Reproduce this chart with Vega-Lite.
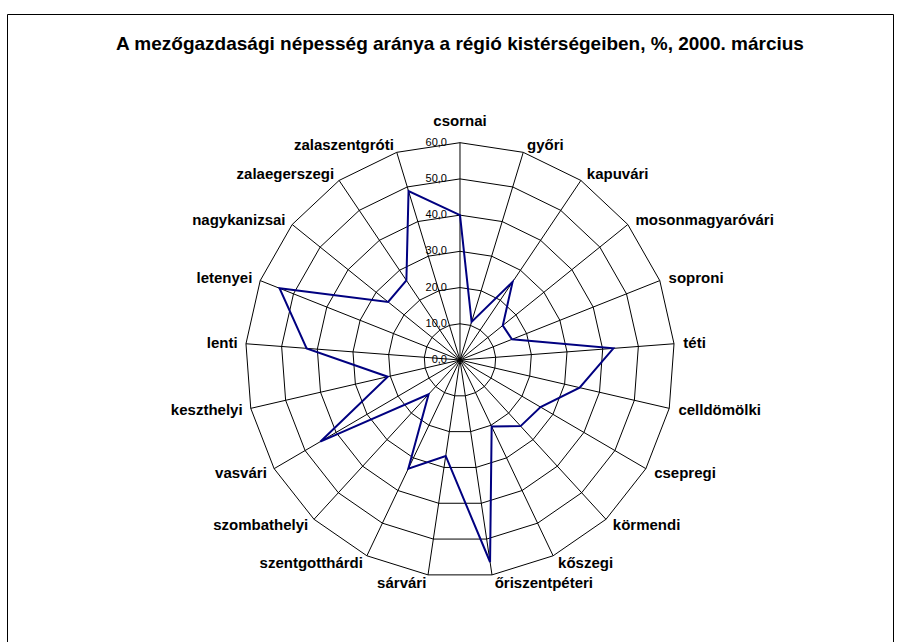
{
  "$schema": "https://vega.github.io/schema/vega-lite/v6.json",
  "width": 886,
  "height": 628,
  "autosize": {"type": "none"},
  "padding": {"left": 7, "top": 14, "right": 6, "bottom": 0},
  "background": "white",
  "config": {
    "view": {"stroke": "black", "strokeWidth": 1},
    "font": "Liberation Sans",
    "locale": {"number": {"decimal": ",", "thousands": " ", "grouping": [3], "currency": ["", " Ft"]}}
  },
  "title": {
    "text": "A mezőgazdasági népesség aránya a régió kistérségeiben, %, 2000. március",
    "anchor": "middle",
    "frame": "group",
    "fontSize": 19,
    "fontWeight": "bold",
    "font": "Liberation Sans",
    "color": "black",
    "dx": 10,
    "dy": 40,
    "offset": 0
  },
  "datasets": {
    "kisterseg": [
      {"sorszam": 0, "nev": "csornai", "ertek": 40.0},
      {"sorszam": 1, "nev": "győri", "ertek": 11.0},
      {"sorszam": 2, "nev": "kapuvári", "ertek": 26.1},
      {"sorszam": 3, "nev": "mosonmagyaróvári", "ertek": 15.3},
      {"sorszam": 4, "nev": "soproni", "ertek": 15.6},
      {"sorszam": 5, "nev": "téti", "ertek": 43.0},
      {"sorszam": 6, "nev": "celldömölki", "ertek": 34.3},
      {"sorszam": 7, "nev": "csepregi", "ertek": 26.0},
      {"sorszam": 8, "nev": "körmendi", "ertek": 24.9},
      {"sorszam": 9, "nev": "kőszegi", "ertek": 20.4},
      {"sorszam": 10, "nev": "őriszentpéteri", "ertek": 56.4},
      {"sorszam": 11, "nev": "sárvári", "ertek": 26.8},
      {"sorszam": 12, "nev": "szentgotthárdi", "ertek": 33.3},
      {"sorszam": 13, "nev": "szombathelyi", "ertek": 12.9},
      {"sorszam": 14, "nev": "vasvári", "ertek": 45.1},
      {"sorszam": 15, "nev": "keszthelyi", "ertek": 20.7},
      {"sorszam": 16, "nev": "lenti", "ertek": 43.0},
      {"sorszam": 17, "nev": "letenyei", "ertek": 54.2},
      {"sorszam": 18, "nev": "nagykanizsai", "ertek": 25.7},
      {"sorszam": 19, "nev": "zalaegerszegi", "ertek": 26.6},
      {"sorszam": 20, "nev": "zalaszentgróti", "ertek": 48.8}
    ],
    "szintek": [
      {"szint": 10, "sorszam": [0,1,2,3,4,5,6,7,8,9,10,11,12,13,14,15,16,17,18,19,20]},
      {"szint": 20, "sorszam": [0,1,2,3,4,5,6,7,8,9,10,11,12,13,14,15,16,17,18,19,20]},
      {"szint": 30, "sorszam": [0,1,2,3,4,5,6,7,8,9,10,11,12,13,14,15,16,17,18,19,20]},
      {"szint": 40, "sorszam": [0,1,2,3,4,5,6,7,8,9,10,11,12,13,14,15,16,17,18,19,20]},
      {"szint": 50, "sorszam": [0,1,2,3,4,5,6,7,8,9,10,11,12,13,14,15,16,17,18,19,20]},
      {"szint": 60, "sorszam": [0,1,2,3,4,5,6,7,8,9,10,11,12,13,14,15,16,17,18,19,20]}
    ],
    "skala": [
      {"szint": 0}, {"szint": 10}, {"szint": 20}, {"szint": 30}, {"szint": 40}, {"szint": 50}, {"szint": 60}
    ]
  },
  "encoding": {
    "x": {"field": "x", "type": "quantitative", "scale": {"domain": [-126.64, 121.05], "nice": false, "zero": false}, "axis": null},
    "y": {"field": "y", "type": "quantitative", "scale": {"domain": [-77.86, 95.53], "nice": false, "zero": false}, "axis": null}
  },
  "layer": [
    {
      "data": {"name": "szintek"},
      "transform": [
        {"flatten": ["sorszam"]},
        {"calculate": "datum.sorszam * 2 * PI / 21", "as": "szog"},
        {"calculate": "datum.szint * sin(datum.szog)", "as": "x"},
        {"calculate": "datum.szint * cos(datum.szog)", "as": "y"}
      ],
      "mark": {"type": "line", "interpolate": "linear-closed", "color": "black", "strokeWidth": 1},
      "encoding": {
        "detail": {"field": "szint", "type": "nominal"},
        "order": {"field": "sorszam", "type": "quantitative"}
      }
    },
    {
      "data": {"name": "kisterseg"},
      "transform": [
        {"calculate": "datum.sorszam * 2 * PI / 21", "as": "szog"},
        {"calculate": "60 * sin(datum.szog)", "as": "x"},
        {"calculate": "60 * cos(datum.szog)", "as": "y"}
      ],
      "mark": {"type": "rule", "color": "black", "strokeWidth": 1},
      "encoding": {
        "x2": {"datum": 0},
        "y2": {"datum": 0}
      }
    },
    {
      "data": {"name": "kisterseg"},
      "transform": [
        {"calculate": "datum.sorszam * 2 * PI / 21", "as": "szog"},
        {"calculate": "datum.ertek * sin(datum.szog)", "as": "x"},
        {"calculate": "datum.ertek * cos(datum.szog)", "as": "y"}
      ],
      "mark": {"type": "line", "interpolate": "linear-closed", "color": "#000080", "strokeWidth": 2},
      "encoding": {
        "order": {"field": "sorszam", "type": "quantitative"}
      }
    },
    {
      "data": {"name": "skala"},
      "transform": [
        {"calculate": "0", "as": "x"},
        {"calculate": "datum.szint", "as": "y"}
      ],
      "mark": {"type": "text", "align": "right", "baseline": "middle", "dx": -13, "fontSize": 11, "color": "black", "font": "Liberation Sans"},
      "encoding": {
        "text": {"field": "szint", "type": "quantitative", "format": ".1f"}
      }
    },
    {
      "data": {"name": "kisterseg"},
      "transform": [
        {"filter": "datum.sorszam == 0"},
        {"calculate": "datum.sorszam * 2 * PI / 21", "as": "szog"},
        {"calculate": "62.2 * sin(datum.szog)", "as": "x"},
        {"calculate": "62.2 * cos(datum.szog)", "as": "y"}
      ],
      "mark": {"type": "text", "align": "center", "baseline": "middle", "dy": -14, "fontSize": 15, "fontWeight": "bold", "color": "black", "font": "Liberation Sans"},
      "encoding": {"text": {"field": "nev", "type": "nominal"}}
    },
    {
      "data": {"name": "kisterseg"},
      "transform": [
        {"filter": "datum.sorszam >= 1 && datum.sorszam <= 10"},
        {"calculate": "datum.sorszam * 2 * PI / 21", "as": "szog"},
        {"calculate": "62.2 * sin(datum.szog)", "as": "x"},
        {"calculate": "62.2 * cos(datum.szog)", "as": "y"}
      ],
      "mark": {"type": "text", "align": "left", "baseline": "middle", "dx": 1.5, "fontSize": 15, "fontWeight": "bold", "color": "black", "font": "Liberation Sans"},
      "encoding": {"text": {"field": "nev", "type": "nominal"}}
    },
    {
      "data": {"name": "kisterseg"},
      "transform": [
        {"filter": "datum.sorszam >= 11"},
        {"calculate": "datum.sorszam * 2 * PI / 21", "as": "szog"},
        {"calculate": "62.2 * sin(datum.szog)", "as": "x"},
        {"calculate": "62.2 * cos(datum.szog)", "as": "y"}
      ],
      "mark": {"type": "text", "align": "right", "baseline": "middle", "dx": -0.5, "fontSize": 15, "fontWeight": "bold", "color": "black", "font": "Liberation Sans"},
      "encoding": {"text": {"field": "nev", "type": "nominal"}}
    }
  ]
}
